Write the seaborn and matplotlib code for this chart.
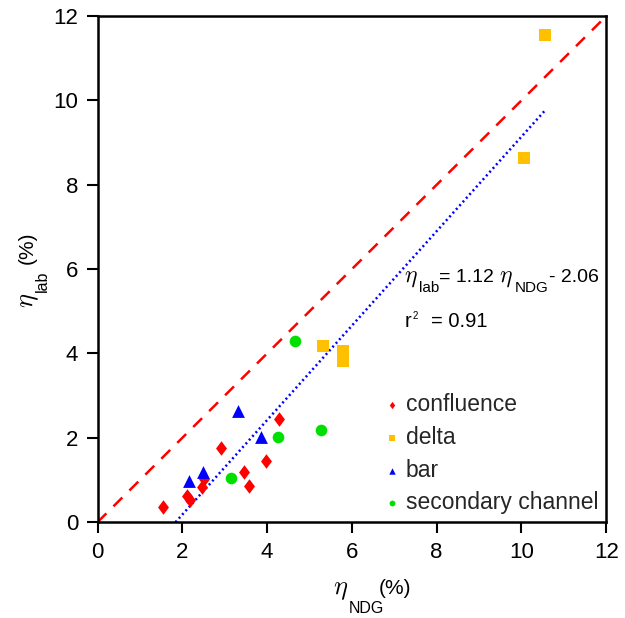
import matplotlib
matplotlib.use("Agg")
import matplotlib.pyplot as plt
import seaborn as sns
import numpy as np
import pandas as pd

# ---- data ----
conf_x = [4.27, 2.91, 3.97, 3.45, 3.58, 2.52, 2.46, 2.10, 2.18, 1.55]
conf_y = [2.45, 1.75, 1.45, 1.20, 0.85, 1.03, 0.84, 0.62, 0.52, 0.37]
delta_x = [10.56, 10.05, 5.31, 5.80, 5.80]
delta_y = [11.56, 8.63, 4.17, 4.05, 3.82]
bar_x = [3.32, 3.86, 2.50, 2.16]
bar_y = [2.63, 2.03, 1.20, 0.98]
sec_x = [4.65, 4.25, 5.27, 3.16]
sec_y = [4.29, 2.01, 2.19, 1.05]
categories = ["confluence", "delta", "bar", "secondary channel"]
fit_slope = 1.12
fit_intercept = -2.06
fit_range = [1.84, 10.55]
one_to_one = [0, 12]
ticks = [0, 2, 4, 6, 8, 10, 12]

sns.set_theme(style="white")
plt.rcParams['font.family'] = ['Liberation Sans', 'DejaVu Sans']
plt.rcParams['mathtext.fontset'] = 'cm'

W, H = 625, 618

df = pd.concat([
    pd.DataFrame({"x": conf_x, "y": conf_y, "type": categories[0]}),
    pd.DataFrame({"x": delta_x, "y": delta_y, "type": categories[1]}),
    pd.DataFrame({"x": bar_x, "y": bar_y, "type": categories[2]}),
    pd.DataFrame({"x": sec_x, "y": sec_y, "type": categories[3]}),
])

palette = {"confluence": "#ff0000", "delta": "#ffc000", "bar": "#0000ff", "secondary channel": "#00e000"}
markers = {"confluence": "D", "delta": "s", "bar": "^", "secondary channel": "o"}
sizes = {"confluence": 55, "delta": 70, "bar": 85, "secondary channel": 70}

fig = plt.figure(figsize=(W / 100, H / 100), dpi=100)
ax = fig.add_axes([0.156, 0.155, 0.814, 0.819])

# reference lines
ax.plot(one_to_one, one_to_one, color="#ff0000", lw=1.8, ls=(0, (5, 4)), zorder=1)
fx = np.array(fit_range)
ax.plot(fx, fit_slope * fx + fit_intercept, color="#0000ff", lw=1.8, ls=(0, (0.8, 1.2)), zorder=1)

for c in categories:
    sub = df[df["type"] == c]
    if c == "confluence":
        m = matplotlib.markers.MarkerStyle("D")
        m._transform.scale(0.75, 1.0)
    else:
        m = markers[c]
    sns.scatterplot(data=sub, x="x", y="y", ax=ax, color=palette[c], s=sizes[c],
                    linewidth=0, label=c, zorder=3, marker=m)

ax.set_xlim(0, 12)
ax.set_ylim(0, 12)
ax.set_xticks(ticks)
ax.set_yticks(ticks)
ax.tick_params(axis="both", which="major", direction="out", length=8, width=1.5,
               labelsize=16, color="black", labelcolor="black", bottom=True, left=True, pad=6)
for s in ax.spines.values():
    s.set_color("black")
    s.set_linewidth(1.8)
ax.set_xlabel("")
ax.set_ylabel("")


def row(pieces, x_left, base_top):
    """Horizontal chain of text pieces; base_top in top-origin pixels."""
    prev = None
    for txt, size, dy, gap in pieces:
        yfrac = 1 - (base_top + dy) / H
        if prev is None:
            t = ax.annotate(txt, xy=(x_left, yfrac), xycoords=("figure pixels", "figure fraction"),
                            ha="left", va="baseline", fontsize=size, color="black",
                            annotation_clip=False)
        else:
            t = ax.annotate(txt, xy=(1, yfrac), xycoords=(prev, "figure fraction"),
                            xytext=(gap, 0), textcoords="offset pixels",
                            ha="left", va="baseline", fontsize=size, color="black",
                            annotation_clip=False)
        prev = t


def col(pieces, y_start_top, base_x):
    """Vertical (rotated 90) chain of text pieces; base_x in pixels from left."""
    prev = None
    for txt, size, dx, gap in pieces:
        if prev is None:
            t = ax.annotate(txt, xy=(base_x + dx, H - y_start_top), xycoords="figure pixels",
                            ha="left", va="baseline", rotation=90, rotation_mode="anchor",
                            fontsize=size, color="black", annotation_clip=False)
        else:
            t = ax.annotate(txt, xy=(base_x + dx, 1), xycoords=("figure pixels", prev),
                            xytext=(0, gap), textcoords="offset pixels",
                            ha="left", va="baseline", rotation=90, rotation_mode="anchor",
                            fontsize=size, color="black", annotation_clip=False)
        prev = t


# x-axis label
row([(r"$\eta$", 19, 0, 0), ("NDG", 11.5, 19, 1), ("(%)", 15, 0, -6)], 333, 594)
# y-axis label
col([(r"$\eta$", 19, 0, 0), ("lab", 11.5, 14, 1), ("(%)", 15, 0, 6)], 308, 33)

# regression annotation
row([(r"$\eta$", 17, 0, 0), ("lab", 11, 10, 1), ("= 1.12 ", 14, 0, 0),
     (r"$\eta$", 17, 0, 0), ("NDG", 11, 10, 2), ("- 2.06", 14, 0, 0)], 404, 282)
row([("r", 14.5, 0, 0), ("2", 7, -8, 1), ("= 0.91", 14.5, 0, 13)], 405, 327)

leg = ax.legend(loc="lower right", frameon=False, fontsize=16.5, markerscale=0.5,
                handletextpad=0.2, labelspacing=0.42, borderaxespad=0.05, handlelength=0.8,
                borderpad=0.3)

fig.savefig("out.png", dpi=100)
